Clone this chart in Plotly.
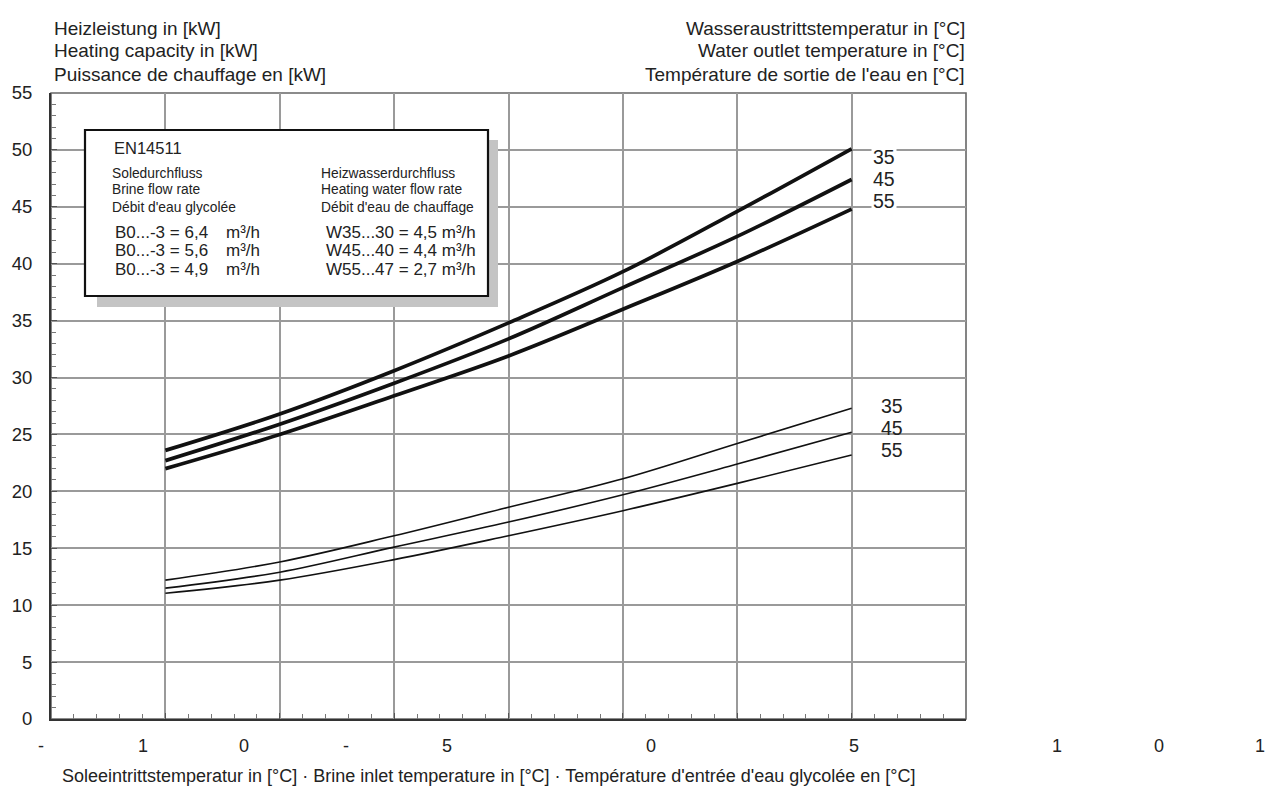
import plotly.graph_objects as go

# ---------------- data ----------------
brine_temp = [-5, 0, 5, 10, 15, 20, 25]
# max. capacity (thick curves)
cap_max_35 = [23.6, 26.8, 30.6, 34.8, 39.3, 44.6, 50.1]
cap_max_45 = [22.7, 25.9, 29.5, 33.4, 37.9, 42.4, 47.4]
cap_max_55 = [22.0, 25.0, 28.4, 31.9, 36.0, 40.2, 44.8]
# min. capacity (thin curves)
cap_min_35 = [12.2, 13.8, 16.1, 18.6, 21.1, 24.2, 27.3]
cap_min_45 = [11.5, 12.9, 15.1, 17.3, 19.7, 22.4, 25.2]
cap_min_55 = [11.05, 12.2, 14.0, 16.1, 18.3, 20.7, 23.2]
outlet_labels = ["35", "45", "55"]
y_ticks = list(range(0, 56, 5))
x_tick_labels = ["-", "1", "0", "-", "5", "0", "5", "1", "0", "1"]
x_tick_slots = [0, 1, 2, 3, 4, 6, 8, 10, 11, 12]

header_left = ["Heizleistung in [kW]", "Heating capacity in [kW]", "Puissance de chauffage en [kW]"]
header_right = ["Wasseraustrittstemperatur in [°C]", "Water outlet temperature in [°C]",
                "Température de sortie de l'eau en [°C]"]
x_title = "Soleeintrittstemperatur in [°C] · Brine inlet temperature in [°C] · Température d'entrée d'eau glycolée en [°C]"
box_title = "EN14511"
box_left_head = ["Soledurchfluss", "Brine flow rate", "Débit d'eau glycolée"]
box_right_head = ["Heizwasserdurchfluss", "Heating water flow rate", "Débit d'eau de chauffage"]
box_left_rows = ["B0...-3 = 6,4", "B0...-3 = 5,6", "B0...-3 = 4,9"]
box_unit = "m³/h"
box_right_rows = ["W35...30 = 4,5 m³/h", "W45...40 = 4,4 m³/h", "W55...47 = 2,7 m³/h"]

# ---------------- layout geometry ----------------
W, H = 1267, 792
L, R, T, B = 51, 966, 93, 719
PW, PH = R - L, B - T
FONT = "Liberation Sans, Arial, sans-serif"


def px(x):
    return (x - L) / PW


def py(y):
    return (B - y) / PH


fig = go.Figure()

thick = [cap_max_35, cap_max_45, cap_max_55]
thin = [cap_min_35, cap_min_45, cap_min_55]
for lab, ys in zip(outlet_labels, thick):
    fig.add_trace(go.Scatter(x=brine_temp, y=ys, mode="lines", name="max " + lab,
                             line=dict(color="#111111", width=3.7, shape="spline", smoothing=1.0)))
for lab, ys in zip(outlet_labels, thin):
    fig.add_trace(go.Scatter(x=brine_temp, y=ys, mode="lines", name="min " + lab,
                             line=dict(color="#111111", width=1.6, shape="spline", smoothing=1.0)))

ann = []
shapes = []


def text(t, x, y, size, anchor="left", **kw):
    ann.append(dict(text=t, x=px(x), y=py(y), xref="paper", yref="paper",
                    xanchor=anchor, yanchor="middle", showarrow=False,
                    font=dict(size=size, color="#222", family=FONT), **kw))


# headers
for i, t in enumerate(header_left):
    text(t, 52, 28 + 23 * i, 19)
for i, t in enumerate(header_right):
    text(t, 967, 28 + 23 * i, 19, anchor="right")

# x axis title
text(x_title, 60, 776, 18)

# x tick labels (as shown)
for lab, s in zip(x_tick_labels, x_tick_slots):
    text(lab, 41 + 101.6 * s, 746, 18, anchor="center")

# curve labels
for lab, yy in zip(outlet_labels, [157, 179, 201]):
    text(lab, 884, yy, 19.5, anchor="center", bgcolor="white", borderpad=1)
for lab, yy in zip(outlet_labels, [406, 428, 450]):
    text(lab, 892, yy, 19.5, anchor="center")

# info box with shadow
shapes.append(dict(type="rect", xref="paper", yref="paper",
                   x0=px(97), x1=px(498), y0=py(307), y1=py(140),
                   fillcolor="#c4c4c4", line=dict(width=0), layer="above"))
shapes.append(dict(type="rect", xref="paper", yref="paper",
                   x0=px(85), x1=px(488), y0=py(296), y1=py(130),
                   fillcolor="white", line=dict(color="#111", width=2.2), layer="above"))

text(box_title, 112, 148, 16.5)
for i, (a, b) in enumerate(zip(box_left_head, box_right_head)):
    yy = [174, 189, 207][i]
    text(a, 110, yy, 13.8)
    text(b, 319, yy, 13.8)
for i, (a, b) in enumerate(zip(box_left_rows, box_right_rows)):
    yy = [232, 251, 269][i]
    text(a, 113, yy, 17)
    text(box_unit, 224, yy, 17)
    text(b, 324, yy, 17)

# outer frame (top/right)
shapes.append(dict(type="rect", xref="paper", yref="paper", x0=0, x1=1, y0=0, y1=1,
                   line=dict(color="#666", width=1.6), layer="below"))

fig.update_layout(
    width=W, height=H,
    margin=dict(l=L, r=W - R, t=T, b=H - B, pad=0),
    paper_bgcolor="white", plot_bgcolor="white",
    showlegend=False,
    annotations=ann, shapes=shapes,
    font=dict(family=FONT, color="#222"),
    xaxis=dict(range=[-10, 30], dtick=5, tick0=0, showticklabels=False,
               showgrid=True, gridcolor="#9a9a9a", gridwidth=1.5,
               showline=True, linecolor="#333", linewidth=2, zeroline=False,
               ticks="inside", ticklen=6, tickcolor="#555",
               minor=dict(dtick=1, ticks="inside", ticklen=5, tickcolor="#777", showgrid=False)),
    yaxis=dict(range=[0, 55], tickvals=y_ticks, ticktext=[str(v) for v in y_ticks],
               showgrid=True, gridcolor="#9a9a9a", gridwidth=1.5,
               showline=True, linecolor="#333", linewidth=2, zeroline=False,
               ticks="inside", ticklen=6, tickcolor="#555", ticklabelstandoff=13,
               tickfont=dict(size=18.5, color="#222", family=FONT),
               minor=dict(dtick=1, ticks="inside", ticklen=5, tickcolor="#777", showgrid=False)),
)

fig.write_html("out.html")
